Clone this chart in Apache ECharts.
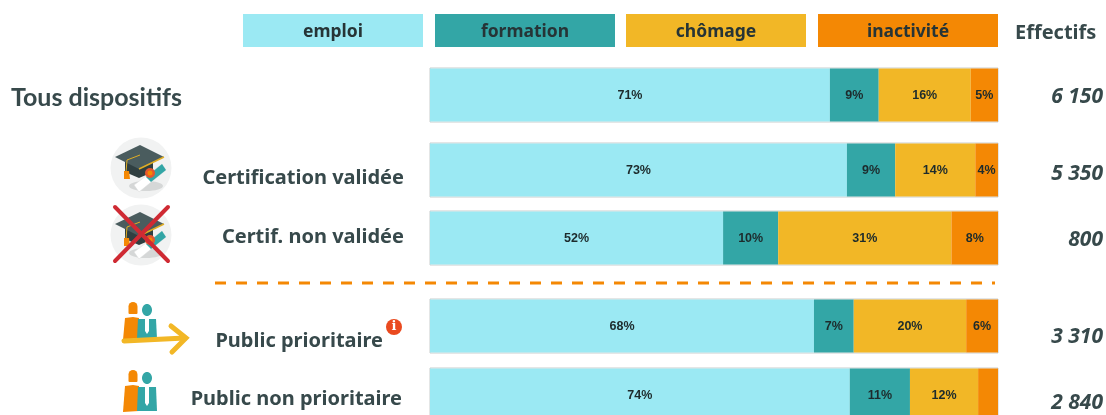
<!DOCTYPE html>
<html>
<head>
<meta charset="utf-8">
<title>Situation des sortants</title>
<script src="https://cdn.jsdelivr.net/npm/echarts@6/dist/echarts.min.js"></script>
<style>
  html, body { margin: 0; padding: 0; background: #fff; }
  #chart { width: 1106px; height: 415px; }
</style>
</head>
<body>
<div id="chart"></div>
<script>
// données
const seriesNames = ['emploi', 'formation', 'chômage', 'inactivité']
const rowNames = ['Tous dispositifs', 'Certification validée', 'Certif. non validée', 'Public prioritaire', 'Public non prioritaire']
const effectifs = ['6 150', '5 350', '800', '3 310', '2 840']
const emploi = [70.4, 73.4, 51.6, 67.6, 73.9]
const formation = [8.6, 8.5, 9.7, 7.0, 10.6]
const chomage = [16.2, 14.1, 30.5, 19.8, 12.0]
const inactivite = [4.8, 4.0, 8.2, 5.6, 3.5]
// les libellés affichés ne sont pas toujours l'arrondi de la largeur
const emploiLabels = ['71%', '73%', '52%', '68%', '74%']
const formationLabels = ['9%', '9%', '10%', '7%', '11%']
const chomageLabels = ['16%', '14%', '31%', '20%', '12%']
const inactiviteLabels = ['5%', '4%', '8%', '6%', '']

const colors = ['#9BE9F3', '#33A6A6', '#F2B726', '#F48804']
const textColor = '#37494B'
const fontName = '"Noto Sans", sans-serif'

// mise en page : une grille par ligne
const rowTops = [68, 143, 211, 299, 368]
const barHeight = 54
const nameRights = [182, 404, 404, 383, 402]
const nameYs = [98, 178, 237, 341, 399]
const effectifYs = [97, 174, 240, 337, 403]

const allValues = [emploi, formation, chomage, inactivite]
const allLabels = [emploiLabels, formationLabels, chomageLabels, inactiviteLabels]

const grids = [], xAxes = [], yAxes = [], series = [], rowTexts = []
rowNames.forEach((name, i) => {
  grids.push({
    left: 430, right: 108, top: rowTops[i], height: barHeight,
    outerBoundsMode: 'none',
    show: true, borderColor: '#c9cdcd', borderWidth: 1, backgroundColor: 'transparent'
  })
  xAxes.push({ gridIndex: i, type: 'value', min: 0, max: 100, show: false })
  yAxes.push({
    gridIndex: i, type: 'category', data: [name],
    axisLine: { show: false }, axisTick: { show: false }, axisLabel: { show: false }
  })
  // libellés de ligne et effectifs, décalés par rapport au centre des barres
  rowTexts.push({
    type: 'text', x: nameRights[i], y: nameYs[i],
    style: {
      text: name, fill: textColor,
      font: i === 0 ? 'bold 25px Lato, sans-serif' : 'bold 20px ' + fontName,
      textAlign: 'right', textVerticalAlign: 'middle'
    }
  })
  rowTexts.push({
    type: 'text', x: 1103, y: effectifYs[i],
    style: {
      text: effectifs[i], fill: textColor,
      font: 'italic bold 21px ' + fontName,
      textAlign: 'right', textVerticalAlign: 'middle'
    }
  })
  seriesNames.forEach((s, k) => {
    series.push({
      name: s, type: 'bar', stack: 'ligne' + i,
      xAxisIndex: i, yAxisIndex: i,
      barWidth: barHeight - 1,
      data: [allValues[k][i]],
      itemStyle: { color: colors[k] },
      label: {
        show: true, position: 'inside', offset: [0, 1], formatter: allLabels[k][i],
        color: '#1d2b2c', fontFamily: '"Liberation Sans", sans-serif',
        fontWeight: 'bold', fontSize: 12.5
      }
    })
  })
})

// légende : pavés avec le texte dedans
const legendLefts = [243, 435, 626, 818]
const legendItems = []
seriesNames.forEach((s, k) => {
  legendItems.push({
    type: 'rect', shape: { x: legendLefts[k], y: 14, width: 180, height: 33 },
    style: { fill: colors[k] }
  })
  legendItems.push({
    type: 'text', x: legendLefts[k] + 90, y: 32,
    style: {
      text: s, fill: '#263436', font: 'bold 17.5px ' + fontName,
      textAlign: 'center', textVerticalAlign: 'middle'
    }
  })
})

// pictogramme diplôme
function capIcon(dy) {
  return {
    type: 'group', y: dy,
    children: [
      { type: 'circle', shape: { cx: 141, cy: 168, r: 30.5 }, style: { fill: '#f1f2f2' } },
      { type: 'ellipse', shape: { cx: 146, cy: 186, rx: 17, ry: 5 }, style: { fill: '#d5d7d7' } },
      { type: 'polygon', shape: { points: [[125, 160], [153, 160], [153, 172], [139, 178], [125, 172]] }, style: { fill: '#2f3f41' } },
      { type: 'polygon', shape: { points: [[140, 145], [164, 157], [139, 169], [115, 157]] }, style: { fill: '#4a5c5e' } },
      { type: 'polyline', shape: { points: [[164, 157], [139, 169]] }, style: { stroke: '#e0ad24', lineWidth: 1.5, fill: 'none' } },
      { type: 'polyline', shape: { points: [[140, 155], [127, 160], [126, 172]] }, style: { stroke: '#e0ad24', lineWidth: 1, fill: 'none' } },
      { type: 'polygon', shape: { points: [[124, 171], [129, 171], [130, 179], [124, 179]] }, style: { fill: '#F48804' } },
      { type: 'polygon', shape: { points: [[134, 185], [162, 164], [166, 170], [139, 192]] }, style: { fill: '#ffffff', stroke: '#d8dada', lineWidth: 0.5 } },
      { type: 'polygon', shape: { points: [[146, 177], [162, 164], [166, 170], [151, 182]] }, style: { fill: '#33A6A6' } },
      { type: 'circle', shape: { cx: 150, cy: 173, r: 5 }, style: { fill: '#e4572e' } },
      { type: 'circle', shape: { cx: 150, cy: 173, r: 2.5 }, style: { fill: '#F48804' } }
    ]
  }
}

// pictogramme deux personnes
function peopleIcon(dy, bottom) {
  return {
    type: 'group', y: dy,
    children: [
      { type: 'rect', shape: { x: 128.5, y: 302, width: 9, height: 12, r: [4.5, 4.5, 1, 1] }, style: { fill: '#F48804' } },
      { type: 'polygon', shape: { points: [[125, 318], [133, 317], [139, 318], [139, bottom], [123, bottom + 1]] }, style: { fill: '#F48804' } },
      { type: 'ellipse', shape: { cx: 147, cy: 310, rx: 5, ry: 6 }, style: { fill: '#33A6A6' } },
      { type: 'polygon', shape: { points: [[138, 319], [156, 319], [157, bottom], [137, bottom]] }, style: { fill: '#33A6A6' } },
      { type: 'polygon', shape: { points: [[145, 319], [149, 319], [149, bottom - 8], [147, bottom - 5], [145, bottom - 8]] }, style: { fill: '#ffffff' } }
    ]
  }
}

const graphics = legendItems.concat(rowTexts, [
  {
    type: 'text', x: 1015, y: 33,
    style: { text: 'Effectifs', fill: textColor, font: 'bold 20px ' + fontName, textVerticalAlign: 'middle' }
  },
  // séparateur
  {
    type: 'line', shape: { x1: 215, y1: 283, x2: 995, y2: 283 },
    style: { stroke: '#F48804', lineWidth: 3, lineDash: [11, 10] }
  },
  capIcon(0),
  capIcon(67),
  { type: 'line', shape: { x1: 115, y1: 207, x2: 168, y2: 261 }, style: { stroke: '#cf2a33', lineWidth: 4, lineCap: 'round' } },
  { type: 'line', shape: { x1: 168, y1: 207, x2: 115, y2: 261 }, style: { stroke: '#cf2a33', lineWidth: 4, lineCap: 'round' } },
  peopleIcon(0, 339),
  { type: 'line', shape: { x1: 124, y1: 341, x2: 185, y2: 338 }, style: { stroke: '#F2B726', lineWidth: 5, lineCap: 'round' } },
  { type: 'polyline', shape: { points: [[171, 326], [186, 338], [172, 352]] }, style: { stroke: '#F2B726', lineWidth: 5, lineCap: 'round', fill: 'none' } },
  peopleIcon(68, 343),
  // pastille info
  { type: 'circle', shape: { cx: 394, cy: 327, r: 8 }, style: { fill: '#ea4a1f' } },
  {
    type: 'text', x: 394, y: 327,
    style: { text: 'i', fill: '#ffffff', font: 'bold 13px "DejaVu Serif", serif', textAlign: 'center', textVerticalAlign: 'middle' }
  }
])

const chart = echarts.init(document.getElementById('chart'))
chart.setOption({
  animation: false,
  grid: grids,
  xAxis: xAxes,
  yAxis: yAxes,
  series: series,
  graphic: graphics
})
</script>
</body>
</html>
